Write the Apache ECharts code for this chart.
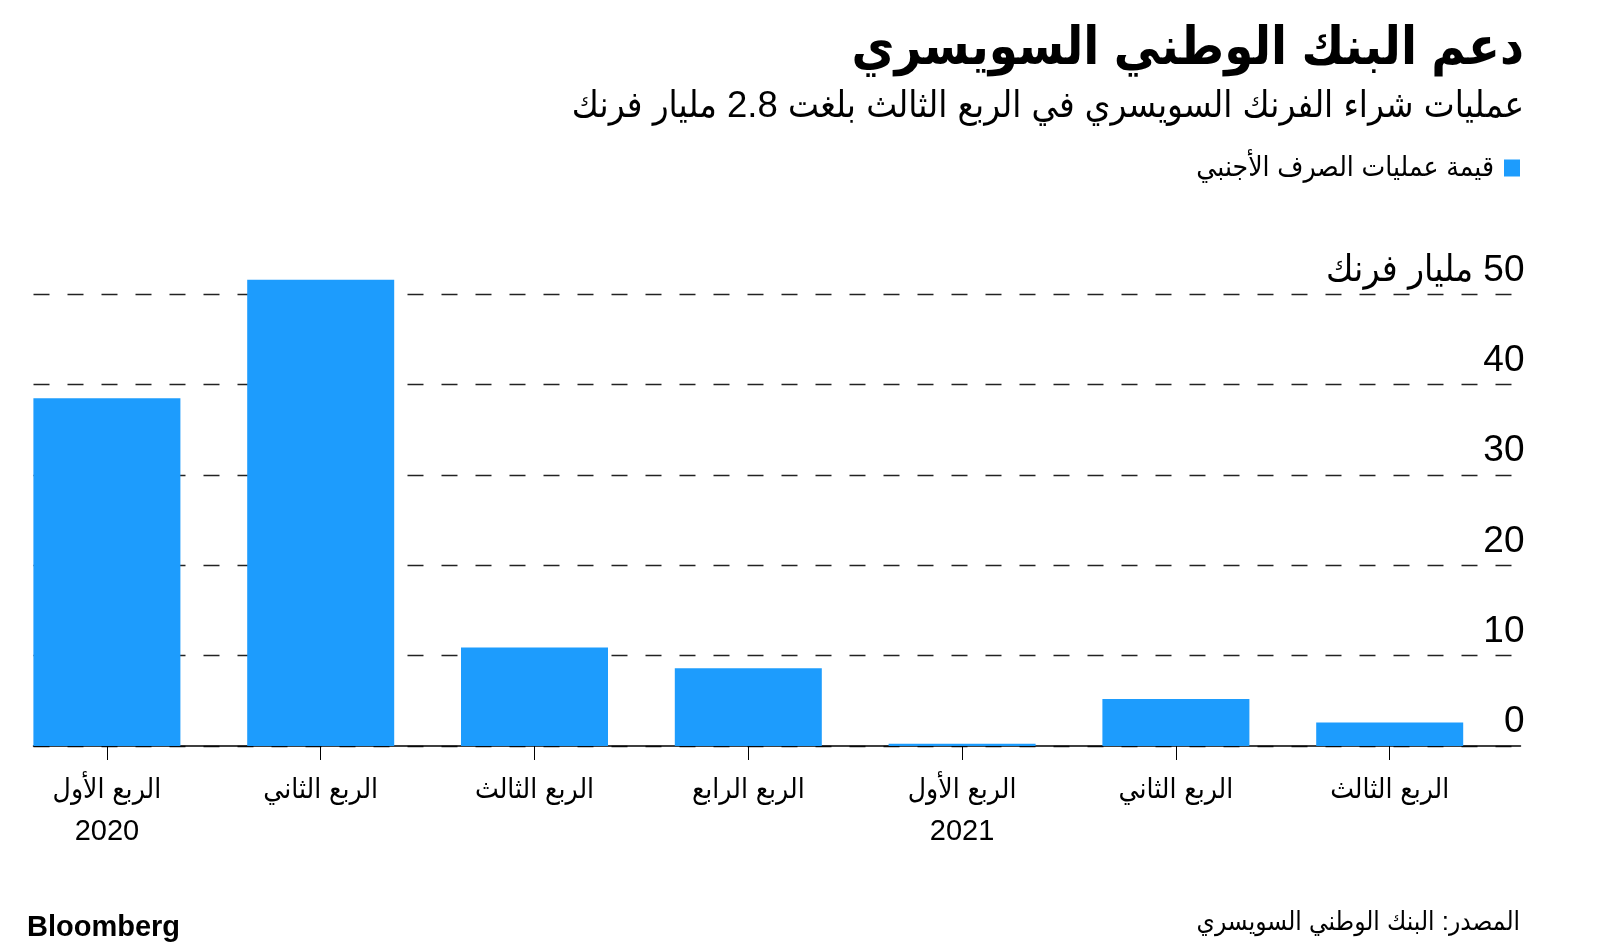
<!DOCTYPE html>
<html>
<head>
<meta charset="utf-8">
<script src="https://cdn.jsdelivr.net/npm/echarts@6/dist/echarts.min.js"></script>
<style>
html,body{margin:0;padding:0;background:#fff;}
#chart{width:1600px;height:952px;}
</style>
</head>
<body>
<div id="chart"></div>
<script>
const titleText = 'دعم البنك الوطني السويسري';
const subtitleText = 'عمليات شراء الفرنك السويسري في الربع الثالث بلغت 2.8 مليار فرنك';
const seriesName = 'قيمة عمليات الصرف الأجنبي';
const sourceText = 'المصدر: البنك الوطني السويسري';
const categories = ['الربع الأول','الربع الثاني','الربع الثالث','الربع الرابع','الربع الأول','الربع الثاني','الربع الثالث'];
const years = ['2020','','','','2021','',''];
const values = [38.5, 51.6, 10.9, 8.6, 0.25, 5.2, 2.6];
const yMin = 0, yMax = 50, yInterval = 10;
const yUnit = 'مليار فرنك';

const FONT = "'Liberation Sans', 'DejaVu Sans Condensed', 'DejaVu Sans', sans-serif";
const BLUE = '#1d9cfd';

const chart = echarts.init(document.getElementById('chart'), null, {renderer: 'canvas'});
const gridTop = 294.3, gridBottom = 206;

chart.setOption({
  animation: false,
  backgroundColor: '#fff',
  textStyle: {fontFamily: FONT},
  title: [
    {text: titleText, right: 76, top: 17, padding: 0,
     textStyle: {fontSize: 52, fontWeight: 'bold', lineHeight: 66, color: '#000', fontFamily: FONT}},
    {text: subtitleText, right: 76, top: 85, padding: 0,
     textStyle: {fontSize: 36.5, fontWeight: 'normal', lineHeight: 44, color: '#000', fontFamily: FONT}},
    {text: sourceText, right: 80, top: 907, padding: 0,
     textStyle: {fontSize: 26, fontWeight: 'normal', lineHeight: 32, color: '#000', fontFamily: FONT}},
    {text: 'Bloomberg', left: 27, top: 912, padding: 0,
     textStyle: {fontSize: 29, fontWeight: 'bold', lineHeight: 32, color: '#000', fontFamily: FONT}}
  ],
  legend: {
    data: [seriesName], right: 80, top: 154, padding: 0, align: 'right',
    icon: 'rect', itemWidth: 16, itemHeight: 17,
    textStyle: {fontSize: 28, color: '#000', fontFamily: FONT, padding: [0, 5, 0, 0]}
  },
  grid: [
    {left: 0, width: 1496.6, top: gridTop, bottom: gridBottom},
    {left: 33.5, right: 79.5, top: gridTop, bottom: gridBottom}
  ],
  xAxis: [
    {type: 'category', gridIndex: 0, data: categories, boundaryGap: true,
     axisLine: {show: false},
     axisTick: {show: true, alignWithLabel: true, interval: 0, length: 14, lineStyle: {color: '#000', width: 1}},
     axisLabel: {
       interval: 0, margin: 27, verticalAlign: 'top', color: '#000',
       formatter: function (v, i) {
         return years[i] ? '{q|' + v + '}\n{y|' + years[i] + '}' : '{q|' + v + '}';
       },
       rich: {
         q: {fontSize: 28, lineHeight: 34, color: '#000', fontFamily: FONT},
         y: {fontSize: 29, lineHeight: 50, color: '#000', fontFamily: FONT}
       }
     },
     splitLine: {show: false}},
    {type: 'value', gridIndex: 1, min: 0, max: 1,
     axisLine: {show: true, onZero: false, lineStyle: {color: '#000', width: 1.5}},
     axisTick: {show: false}, axisLabel: {show: false}, splitLine: {show: false}}
  ],
  yAxis: [
    {type: 'value', gridIndex: 0, min: yMin, max: yMax, show: false, splitLine: {show: false}},
    {type: 'value', gridIndex: 1, min: yMin, max: yMax, interval: yInterval, position: 'right',
     axisLine: {show: false}, axisTick: {show: false},
     axisLabel: {
       inside: true, margin: -4, align: 'right', verticalAlign: 'bottom', lineHeight: 48,
       fontSize: 37, color: '#000', fontFamily: FONT,
       formatter: function (v) {
         return v === yMax ? '\u202B' + v + ' ' + yUnit + '\u202C' : String(v);
       }
     },
     splitLine: {show: true, lineStyle: {type: [16, 18], color: '#222', width: 1.3}}}
  ],
  series: [{
    name: seriesName, type: 'bar', xAxisIndex: 0, yAxisIndex: 0,
    data: values, barWidth: 147, clip: false,
    itemStyle: {color: BLUE}
  }]
});
</script>
</body>
</html>
